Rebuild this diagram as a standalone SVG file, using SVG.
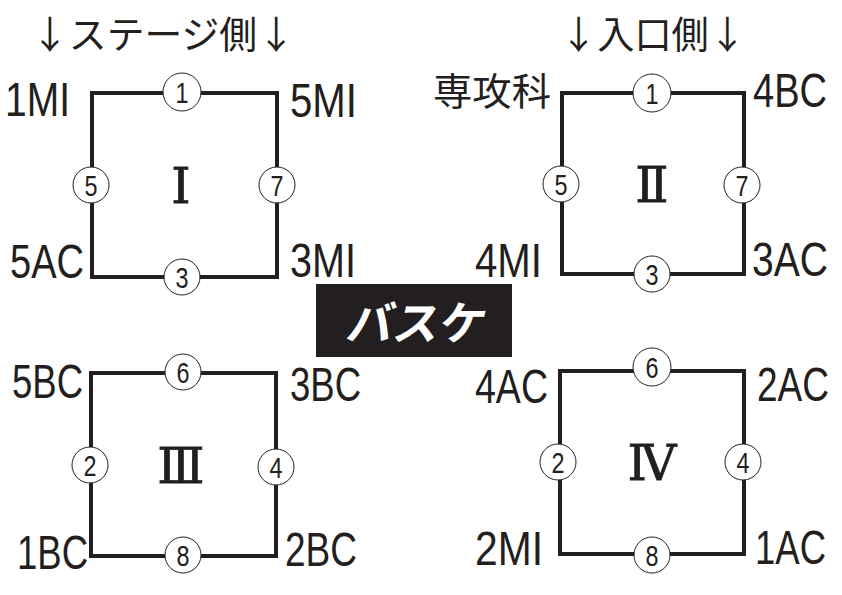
<svg xmlns="http://www.w3.org/2000/svg" width="842" height="595" viewBox="0 0 842 595">
<style>
.sq{fill:none;stroke:#231f20;stroke-width:4;stroke-linejoin:miter}
.c{fill:#fff;stroke:#231f20;stroke-width:1}
.d{font-family:"Liberation Sans",Arial,sans-serif;font-size:30px;fill:#231f20;text-anchor:middle}
.l{font-family:"Liberation Sans",Arial,sans-serif;font-size:49px;fill:#231f20}
.r{font-family:"DejaVu Serif","Liberation Serif",serif;font-size:49px;fill:#231f20;text-anchor:middle;stroke:#231f20;stroke-width:0.8}
.t{font-family:"Noto Sans CJK JP","Noto Sans",sans-serif;font-size:38px;fill:#231f20}
</style>
<rect width="842" height="595" fill="#fff"/>
<text class="t" x="31" y="48" textLength="264" lengthAdjust="spacingAndGlyphs">↓ステージ側↓</text>
<text class="t" x="560" y="48" textLength="186" lengthAdjust="spacingAndGlyphs">↓入口側↓</text>

<g id="connectors">
<rect class="sq" x="92" y="93" width="185" height="184"/>
<rect class="sq" x="562" y="93" width="182" height="181"/>
<rect class="sq" x="91" y="373" width="185" height="183"/>
<rect class="sq" x="560" y="371" width="184" height="183"/>
</g>

<g id="zone1">
<text class="r" x="181" y="203">Ⅰ</text>
<g id="z1n1"><circle class="c" cx="182" cy="92" r="19"/><text class="d" x="182" y="103" textLength="13" lengthAdjust="spacingAndGlyphs">1</text></g>
<g id="z1n5"><circle class="c" cx="91" cy="185" r="18"/><text class="d" x="91" y="196" textLength="13" lengthAdjust="spacingAndGlyphs">5</text></g>
<g id="z1n7"><circle class="c" cx="277" cy="185" r="18"/><text class="d" x="277" y="196" textLength="13" lengthAdjust="spacingAndGlyphs">7</text></g>
<g id="z1n3"><circle class="c" cx="182" cy="277" r="18"/><text class="d" x="182" y="288" textLength="13" lengthAdjust="spacingAndGlyphs">3</text></g>
<text class="l" x="5" y="116" textLength="65" lengthAdjust="spacingAndGlyphs">1MI</text>
<text class="l" x="290" y="117" textLength="67" lengthAdjust="spacingAndGlyphs">5MI</text>
<text class="l" x="10" y="278" textLength="74" lengthAdjust="spacingAndGlyphs">5AC</text>
<text class="l" x="290" y="277" textLength="66" lengthAdjust="spacingAndGlyphs">3MI</text>
</g>

<g id="zone2">
<text class="r" x="652" y="202">Ⅱ</text>
<g id="z2n1"><circle class="c" cx="652" cy="93" r="19"/><text class="d" x="652" y="104" textLength="13" lengthAdjust="spacingAndGlyphs">1</text></g>
<g id="z2n5"><circle class="c" cx="561" cy="184" r="18"/><text class="d" x="561" y="195" textLength="13" lengthAdjust="spacingAndGlyphs">5</text></g>
<g id="z2n7"><circle class="c" cx="742" cy="185" r="18"/><text class="d" x="742" y="196" textLength="13" lengthAdjust="spacingAndGlyphs">7</text></g>
<g id="z2n3"><circle class="c" cx="652" cy="274" r="18"/><text class="d" x="652" y="285" textLength="13" lengthAdjust="spacingAndGlyphs">3</text></g>
<text class="t" x="433" y="105" textLength="118" lengthAdjust="spacingAndGlyphs">専攻科</text>
<text class="l" transform="translate(753,107) scale(0.777,1)">4BC</text>
<text class="l" x="475" y="277" textLength="67" lengthAdjust="spacingAndGlyphs">4MI</text>
<text class="l" transform="translate(752,276) scale(0.797,1)">3AC</text>
</g>

<rect x="316" y="284" width="196" height="73" fill="#231f20"/>
<text x="414" y="340" font-family="Noto Sans CJK JP,sans-serif" font-size="46" font-weight="bold" fill="#fff" text-anchor="middle" transform="skewX(-12) translate(72,0)">バスケ</text>

<g id="zone3">
<text class="r" x="181" y="483">Ⅲ</text>
<g id="z3n6"><circle class="c" cx="183" cy="372" r="18"/><text class="d" x="183" y="383" textLength="13" lengthAdjust="spacingAndGlyphs">6</text></g>
<g id="z3n2"><circle class="c" cx="90" cy="465" r="18"/><text class="d" x="90" y="476" textLength="13" lengthAdjust="spacingAndGlyphs">2</text></g>
<g id="z3n4"><circle class="c" cx="276" cy="467" r="18"/><text class="d" x="276" y="478" textLength="13" lengthAdjust="spacingAndGlyphs">4</text></g>
<g id="z3n8"><circle class="c" cx="183" cy="555" r="18"/><text class="d" x="183" y="566" textLength="13" lengthAdjust="spacingAndGlyphs">8</text></g>
<text class="l" x="12" y="398" textLength="71" lengthAdjust="spacingAndGlyphs">5BC</text>
<text class="l" x="290" y="401" textLength="71" lengthAdjust="spacingAndGlyphs">3BC</text>
<text class="l" x="17" y="569" textLength="71" lengthAdjust="spacingAndGlyphs">1BC</text>
<text class="l" x="285" y="566" textLength="72" lengthAdjust="spacingAndGlyphs">2BC</text>
</g>

<g id="zone4">
<text class="r" x="652" y="480">Ⅳ</text>
<g id="z4n6"><circle class="c" cx="652" cy="367" r="19"/><text class="d" x="652" y="378" textLength="13" lengthAdjust="spacingAndGlyphs">6</text></g>
<g id="z4n2"><circle class="c" cx="558" cy="462" r="18"/><text class="d" x="558" y="473" textLength="13" lengthAdjust="spacingAndGlyphs">2</text></g>
<g id="z4n4"><circle class="c" cx="743" cy="462" r="18"/><text class="d" x="743" y="473" textLength="13" lengthAdjust="spacingAndGlyphs">4</text></g>
<g id="z4n8"><circle class="c" cx="652" cy="555" r="18"/><text class="d" x="652" y="566" textLength="13" lengthAdjust="spacingAndGlyphs">8</text></g>
<text class="l" x="475" y="403" textLength="73" lengthAdjust="spacingAndGlyphs">4AC</text>
<text class="l" transform="translate(757,401) scale(0.755,1)">2AC</text>
<text class="l" x="475" y="565" textLength="68" lengthAdjust="spacingAndGlyphs">2MI</text>
<text class="l" transform="translate(755,564) scale(0.745,1)">1AC</text>
</g>
</svg>
